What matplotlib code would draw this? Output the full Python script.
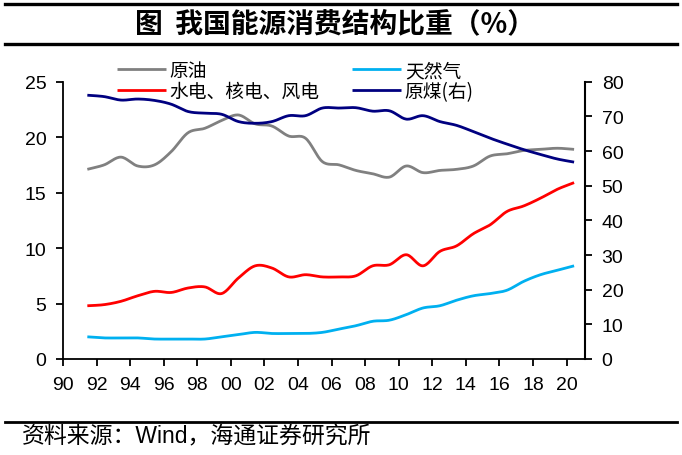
import numpy as np
import matplotlib
matplotlib.use('Agg')
import matplotlib.pyplot as plt
from matplotlib.lines import Line2D

plt.rcParams['font.family'] = ['Liberation Sans', 'Noto Sans CJK SC', 'DejaVu Sans']

years = list(range(1991, 2021))
oil = [17.1, 17.5, 18.2, 17.4, 17.5, 18.7, 20.4, 20.8, 21.5, 22.0,
       21.2, 21.0, 20.1, 19.9, 17.8, 17.5, 17.0, 16.7, 16.4, 17.4,
       16.8, 17.0, 17.1, 17.4, 18.3, 18.5, 18.8, 18.9, 19.0, 18.9]
gas = [2.0, 1.9, 1.9, 1.9, 1.8, 1.8, 1.8, 1.8, 2.0, 2.2,
       2.4, 2.3, 2.3, 2.3, 2.4, 2.7, 3.0, 3.4, 3.5, 4.0,
       4.6, 4.8, 5.3, 5.7, 5.9, 6.2, 7.0, 7.6, 8.0, 8.4]
elec = [4.8, 4.9, 5.2, 5.7, 6.1, 6.0, 6.4, 6.5, 5.9, 7.3,
        8.4, 8.2, 7.4, 7.6, 7.4, 7.4, 7.5, 8.4, 8.5, 9.4,
        8.4, 9.7, 10.2, 11.3, 12.1, 13.3, 13.8, 14.5, 15.3, 15.9]
coal = [76.1, 75.7, 74.7, 75.0, 74.6, 73.5, 71.4, 70.9, 70.6, 68.5,
        68.0, 68.5, 70.2, 70.2, 72.4, 72.4, 72.5, 71.5, 71.6, 69.2,
        70.2, 68.5, 67.4, 65.6, 63.7, 62.0, 60.4, 59.0, 57.7, 56.8]
xticks = list(range(1990, 2021, 2))
xticklabels = [f"{y % 100:02d}" for y in xticks]
labels = ['原油', '天然气', '水电、核电、风电', '原煤(右)']
colors = ['#808080', '#00B0F0', '#FF0000', '#000080']


def smooth(x, y, n=16):
    x = np.asarray(x, float)
    y = np.asarray(y, float)
    px = np.concatenate([[2 * x[0] - x[1]], x, [2 * x[-1] - x[-2]]])
    py = np.concatenate([[2 * y[0] - y[1]], y, [2 * y[-1] - y[-2]]])
    ox, oy = [], []
    t = np.linspace(0, 1, n, endpoint=False)
    for i in range(1, len(px) - 2):
        def cr(a0, a1, a2, a3):
            return 0.5 * ((2 * a1) + (-a0 + a2) * t + (2 * a0 - 5 * a1 + 4 * a2 - a3) * t ** 2
                          + (-a0 + 3 * a1 - 3 * a2 + a3) * t ** 3)
        ox.append(cr(px[i - 1], px[i], px[i + 1], px[i + 2]))
        oy.append(cr(py[i - 1], py[i], py[i + 1], py[i + 2]))
    ox.append([x[-1]])
    oy.append([y[-1]])
    return np.concatenate(ox), np.concatenate(oy)


W, H = 682, 456
fig = plt.figure(figsize=(W / 100, H / 100), dpi=100)
ax = fig.add_axes([63 / W, 1 - 360 / H, (585 - 63) / W, (360 - 82.7) / H])
ax2 = ax.twinx()

xs = np.array(years) + 0.45
lw = 2.0
h = []
for data, c, a in [(oil, colors[0], ax), (gas, colors[1], ax), (elec, colors[2], ax), (coal, colors[3], ax2)]:
    sx, sy = smooth(xs, data)
    ln, = a.plot(sx, sy, color=c, lw=lw, solid_capstyle='butt')
    h.append(ln)

ax.set_xlim(1990, 2021.1)
ax.set_ylim(0, 25)
ax2.set_ylim(0, 80)
ax.set_yticks(range(0, 26, 5))
ax2.set_yticks(range(0, 81, 10))
ax.set_xticks(xticks)
ax.set_xticklabels(xticklabels)

for a in (ax, ax2):
    a.spines['top'].set_visible(False)
    a.tick_params(labelsize=14, width=1.3, length=5, pad=7, direction='out', colors='black')
ax.spines['right'].set_visible(False)
ax2.spines['left'].set_visible(False)
ax2.spines['bottom'].set_visible(False)
ax2.spines['right'].set_linewidth(1.5)
ax.spines['left'].set_linewidth(1.3)
ax.spines['bottom'].set_linewidth(1.3)

leg_h = [h[0], h[2], h[1], h[3]]
leg_l = [labels[0], labels[2], labels[1], labels[3]]
fig.legend(leg_h, leg_l, ncol=2, loc='upper left', bbox_to_anchor=(117 / W, 1 - 61 / H),
           frameon=False, handlelength=2.6, columnspacing=1.75,
           labelspacing=0.0, handletextpad=0.2, borderaxespad=0, borderpad=0,
           prop={'family': ['Noto Sans CJK SC'], 'size': 13.5})

for yy, lwd in [(5, 2.4), (45, 2.4), (423, 2.0)]:
    fig.add_artist(Line2D([5 / W, 677 / W], [1 - yy / H] * 2, transform=fig.transFigure,
                          color='black', lw=lwd))

fig.text(335 / W, 1 - 24 / H, '图  我国能源消费结构比重（%）', ha='center', va='center',
         fontsize=20, fontweight='bold', family=['Noto Sans CJK SC'])
fig.text(22 / W, 1 - 437 / H, '资料来源：Wind，海通证券研究所', ha='left', va='center',
         fontsize=16.5, family=['Liberation Sans', 'Noto Sans CJK SC'])

fig.savefig('out.png', dpi=100)
